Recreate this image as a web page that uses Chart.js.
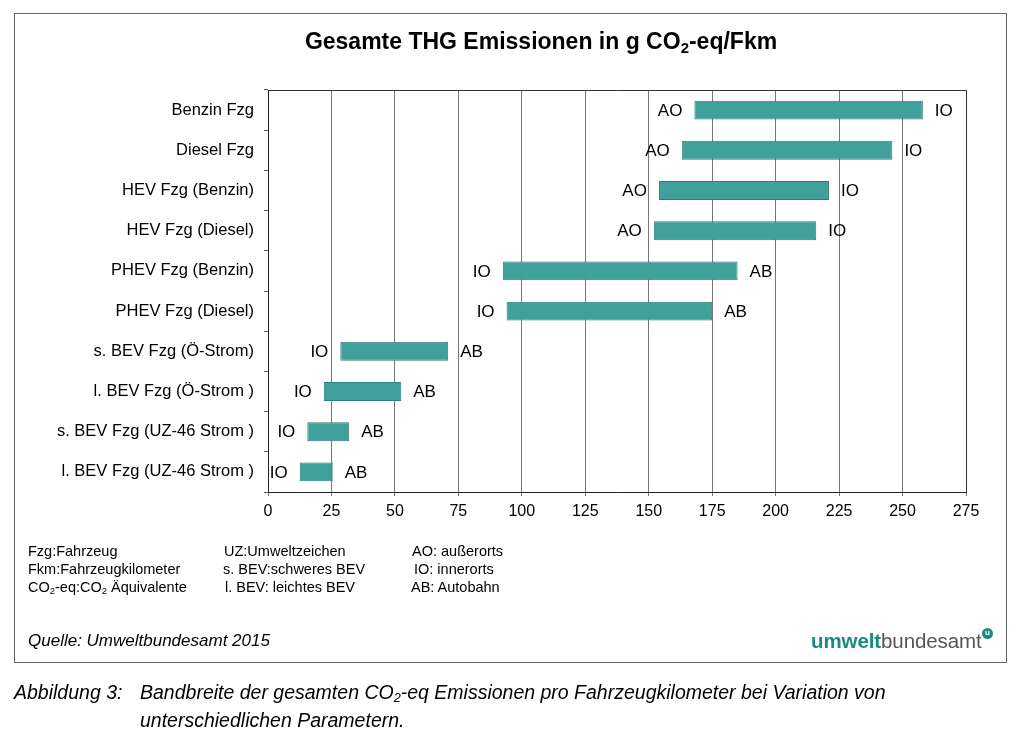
<!DOCTYPE html>
<html>
<head>
<meta charset="utf-8">
<script src="https://cdn.jsdelivr.net/npm/chart.js@4.4.1/dist/chart.umd.min.js"></script>
<style>
  html, body { margin: 0; padding: 0; background: #fff; }
  #wrap { position: relative; width: 1024px; height: 745px; overflow: hidden; font-family: "Liberation Sans", Arial, sans-serif; color: #000; }
  #box { position: absolute; left: 14px; top: 13px; width: 993px; height: 650px; border: 1px solid #666; box-sizing: border-box; }
  #chartc { position: absolute; left: 0; top: 0; }
  .t { position: absolute; white-space: nowrap; line-height: 1; }
  #title { left: 0; width: 1082px; text-align: center; top: 30px; font-size: 23px; font-weight: bold; }
  .fn { font-size: 14.5px; }
  sub { font-size: 0.65em; vertical-align: -0.25em; line-height: 0; }
  #quelle { left: 28px; top: 632px; font-size: 17px; font-style: italic; }
  #logo { left: 811px; top: 631px; font-size: 20.5px; letter-spacing: -0.1px; }
  #logo b { color: #1a8a87; font-weight: bold; }
  #logo span.g { color: #555; }
  #logou { position: absolute; left: 982px; top: 628px; width: 11px; height: 11px; border-radius: 50%; background: #1a8a87; color: #fff; font-size: 8px; font-weight: bold; text-align: center; line-height: 10px; }
  .cap { font-style: italic; font-size: 19.5px; }
</style>
</head>
<body>
<div id="wrap">
  <div id="box"></div>
  <canvas id="chartc" width="1024" height="745"></canvas>
  <div class="t" id="title">Gesamte THG Emissionen in g CO<sub>2</sub>-eq/Fkm</div>

  <div class="t fn" style="left:28px;top:544px;">Fzg:Fahrzeug</div>
  <div class="t fn" style="left:28px;top:562px;">Fkm:Fahrzeugkilometer</div>
  <div class="t fn" style="left:28px;top:580px;">CO<sub>2</sub>-eq:CO<sub>2</sub> Äquivalente</div>
  <div class="t fn" style="left:224px;top:544px;">UZ:Umweltzeichen</div>
  <div class="t fn" style="left:223px;top:562px;">s. BEV:schweres BEV</div>
  <div class="t fn" style="left:225px;top:580px;">l. BEV: leichtes BEV</div>
  <div class="t fn" style="left:412px;top:544px;">AO: außerorts</div>
  <div class="t fn" style="left:414px;top:562px;">IO: innerorts</div>
  <div class="t fn" style="left:411px;top:580px;">AB: Autobahn</div>

  <div class="t" id="quelle">Quelle: Umweltbundesamt 2015</div>
  <div class="t" id="logo"><b>umwelt</b><span class="g">bundesamt</span></div>
  <div id="logou">u</div>

  <div class="t cap" style="left:14px;top:683px;">Abbildung 3:</div>
  <div class="t cap" style="left:140px;top:683px;">Bandbreite der gesamten CO<sub>2</sub>-eq Emissionen pro Fahrzeugkilometer bei Variation von</div>
  <div class="t cap" style="left:140px;top:711px;">unterschiedlichen Parametern.</div>
</div>
<script>
const categories = [
  "Benzin Fzg",
  "Diesel Fzg",
  "HEV Fzg (Benzin)",
  "HEV Fzg (Diesel)",
  "PHEV Fzg (Benzin)",
  "PHEV Fzg (Diesel)",
  "s. BEV Fzg (Ö-Strom)",
  "l. BEV Fzg (Ö-Strom )",
  "s. BEV Fzg (UZ-46 Strom )",
  "l. BEV Fzg (UZ-46 Strom )"
];
const minValues = [168, 163, 154, 152, 92.5, 94, 28.5, 22, 15.5, 12.5];
const maxValues = [258, 246, 221, 216, 185, 175, 71, 52.5, 32, 25.5];
const minLabels = ["AO", "AO", "AO", "AO", "IO", "IO", "IO", "IO", "IO", "IO"];
const maxLabels = ["IO", "IO", "IO", "IO", "AB", "AB", "AB", "AB", "AB", "AB"];
const xTicks = [0, 25, 50, 75, 100, 125, 150, 175, 200, 225, 250, 275];

const ranges = minValues.map((v, i) => [v, maxValues[i]]);

const endLabels = {
  id: 'endLabels',
  afterDatasetsDraw(chart) {
    const ctx = chart.ctx;
    const meta = chart.getDatasetMeta(0);
    ctx.save();
    ctx.font = '17px "Liberation Sans", Arial, sans-serif';
    ctx.fillStyle = '#000';
    ctx.textBaseline = 'middle';
    meta.data.forEach((bar, i) => {
      const left = Math.min(bar.x, bar.base);
      const right = Math.max(bar.x, bar.base);
      ctx.textAlign = 'right';
      ctx.fillText(minLabels[i], left - 12, bar.y + 1);
      ctx.textAlign = 'left';
      ctx.fillText(maxLabels[i], right + 12, bar.y + 1);
    });
    ctx.restore();
  },
  beforeDatasetsDraw(chart) {
    const a = chart.chartArea;
    const ctx = chart.ctx;
    ctx.save();
    ctx.strokeStyle = '#333';
    ctx.lineWidth = 1;
    ctx.beginPath();
    ctx.moveTo(Math.round(a.left) + 0.5, Math.round(a.top) + 0.5);
    ctx.lineTo(Math.round(a.right) + 0.5, Math.round(a.top) + 0.5);
    ctx.lineTo(Math.round(a.right) + 0.5, Math.round(a.bottom) + 0.5);
    ctx.stroke();
    ctx.restore();
  }
};

new Chart(document.getElementById('chartc'), {
  type: 'bar',
  data: {
    labels: categories,
    datasets: [{
      data: ranges,
      backgroundColor: '#40a09c',
      borderColor: '#2f7b78',
      borderWidth: 1,
      borderSkipped: false,
      categoryPercentage: 1,
      barPercentage: 0.47
    }]
  },
  options: {
    indexAxis: 'y',
    responsive: false,
    animation: false,
    devicePixelRatio: 1,
    layout: { padding: { left: 0, top: 90, right: 58, bottom: 223 } },
    plugins: { legend: { display: false }, tooltip: { enabled: false }, title: { display: false } },
    scales: {
      x: {
        min: 0, max: 275,
        afterBuildTicks(scale) { scale.ticks = xTicks.map(v => ({ value: v })); },
        afterFit(scale) { scale.height = 30; },
        grid: { color: '#777', lineWidth: 1, tickLength: 4, drawTicks: true },
        border: { color: '#222', width: 1 },
        ticks: { color: '#000', font: { family: '"Liberation Sans", Arial, sans-serif', size: 16 }, padding: 6, maxRotation: 0, autoSkip: false }
      },
      y: {
        afterFit(scale) { scale.width = 268; },
        grid: { drawOnChartArea: false, tickLength: 4, color: '#555', offset: true },
        border: { color: '#222', width: 1 },
        ticks: { color: '#000', font: { family: '"Liberation Sans", Arial, sans-serif', size: 16.5 }, padding: 10 }
      }
    }
  },
  plugins: [endLabels]
});
</script>
</body>
</html>
